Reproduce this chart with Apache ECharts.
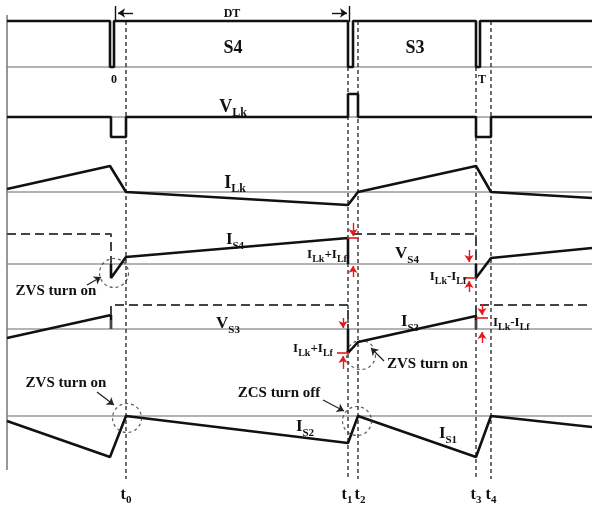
<!DOCTYPE html>
<html><head><meta charset="utf-8">
<script src="https://cdn.jsdelivr.net/npm/echarts@6/dist/echarts.min.js"></script>
<style>html,body{margin:0;padding:0;background:#fff}#c{width:592px;height:507px}</style>
</head><body><div id="c"></div>
<script>
// ---------------- DATA (time in diagram units, levels relative to each trace's zero line) -------------
const s4Time   = [7,110,110,114,114,348,348,353,353,476,476,480,480,592];
const s4Level  = [46,46,0,0,46,46,0,0,46,46,0,0,46,46];
const vlkTime  = [7,111,111,126,126,348,348,358,358,476,476,491,491,592];
const vlkLevel = [0,0,-20,-20,0,0,23,23,0,0,-20,-20,0,0];
const ilkTime  = [7,110,126,348,358,476,491,592];
const ilkLevel = [3,26,0,-13,0,26,0,-6];
const is4TimeA = [111,111,126,348,348];
const is4LevelA= [0,-14,7,26,0];
const is4TimeB = [476,476,491,592];
const is4LevelB= [0,-14,6,16];
const vs4TimeA = [7,111,111];
const vs4LevelA= [30,30,0];
const vs4TimeB = [353,476,476];
const vs4LevelB= [30,30,0];
const is3TimeA = [7,111,111];
const is3LevelA= [-9,14,0];
const is3TimeB = [348,348,358,476,476];
const is3LevelB= [0,-24,-13,13,0];
const vs3TimeA = [111,111,348,348];
const vs3LevelA= [0,24,24,0];
const vs3TimeB = [476,476,592];
const vs3LevelB= [0,24,24];
const isTime   = [7,110,126,348,358,476,491,592];
const isLevel  = [-5,-41,0,-27,0,-41,0,-11];
const tickTimes  = [126,348,358,476,491];
const tickNames  = ['0','1','2','3','4'];
const tickStart  = [21,67,21,67,21];

// ---------------- LAYOUT ----------------
const W = 592, H = 507;
const rowBase = [67,117,192,264,329,416];
const R = 60;
const serif = 'Liberation Serif';
const BLK = '#111';

function pairs(t, v){ return t.map((x,i)=>[x,v[i]]); }

const grids = [], xAxes = [], yAxes = [], series = [];
rowBase.forEach((b,i)=>{
  grids.push({left:7,right:0,top:b-R,height:2*R});
  xAxes.push({type:'value',gridIndex:i,min:7,max:W,show:false});
  yAxes.push({type:'value',gridIndex:i,min:-R,max:R,show:false});
  series.push({type:'line',xAxisIndex:i,yAxisIndex:i,data:[[7,0],[W,0]],symbol:'none',
    lineStyle:{color:'#9a9a9a',width:1.5},z:1,silent:true});
});
// frame grid (index 6)
grids.push({left:0,right:0,top:0,bottom:0});
xAxes.push({type:'value',gridIndex:6,min:0,max:W,show:false});
yAxes.push({type:'value',gridIndex:6,min:0,max:H,inverse:true,show:false});

function trace(row, t, v, dashed){
  series.push({type:'line',xAxisIndex:row,yAxisIndex:row,data:pairs(t,v),symbol:'none',z:5,
    lineStyle: dashed ? {color:'#444',width:2,type:[9,5]} : {color:BLK,width:2.6}});
}
trace(0,s4Time,s4Level);
trace(1,vlkTime,vlkLevel);
trace(2,ilkTime,ilkLevel);
trace(3,is4TimeA,is4LevelA); trace(3,is4TimeB,is4LevelB);
trace(3,vs4TimeA,vs4LevelA,true); trace(3,vs4TimeB,vs4LevelB,true);
trace(4,is3TimeA,is3LevelA); trace(4,is3TimeB,is3LevelB);
trace(4,vs3TimeA,vs3LevelA,true); trace(4,vs3TimeB,vs3LevelB,true);
trace(5,isTime,isLevel);

// frame items
const fr = {xAxisIndex:6,yAxisIndex:6};
series.push(Object.assign({type:'line',data:[[7,15],[7,470]],symbol:'none',lineStyle:{color:'#777',width:1.5},z:2},fr));
tickTimes.forEach((t,i)=>{
  series.push(Object.assign({type:'line',data:[[t,tickStart[i]],[t,479]],symbol:'none',
    lineStyle:{color:'#222',width:1.3,type:[4,3]},z:3},fr));
});
series.push(Object.assign({type:'scatter',data:[[114,273],[127,418],[357,421],[361,355]],symbol:'circle',symbolSize:29,
  itemStyle:{color:'rgba(0,0,0,0)',borderColor:'#333',borderWidth:1.2,borderType:[3,3]},z:6},fr));
function lines(data, color, arrow, w){
  series.push({type:'lines',coordinateSystem:'cartesian2d',xAxisIndex:6,yAxisIndex:6,
    data:data.map(c=>({coords:c})),symbol:arrow?['none','arrow']:['none','none'],symbolSize:arrow?[0,7]:0,
    lineStyle:{color:color,width:w||1.4,opacity:1},z:7});
}
lines([[[133,13],[118,13]],[[332,13],[347,13]]], BLK, true, 1.4);
lines([[[115,6],[115,22]],[[349,6],[349,22]]], BLK, false, 1.4);
lines([[[87,285],[101,277]],[[97,392],[114,405]],[[323,400],[344,411]],[[384,361],[371,348]]], '#222', true, 1.2);
lines([[[353,223],[353,236]],[[353,277],[353,266]],[[343,318],[343,328]],[[343,369],[343,356]],
       [[469,250],[469,262]],[[469,292],[469,281]],[[482,304],[482,315]],[[482,343],[482,332]]], '#e41a1a', true, 1.4);
lines([[[347,238],[359,238]],[[337,353],[349,353]],[[463,278],[476,278]],[[476,318],[488,318]]], '#e41a1a', false, 1.6);

// text labels
function rt(ms, ss){
  return {m:{fontSize:ms,fontFamily:serif,fontWeight:'bold',lineHeight:ms+6,fill:BLK},
          s:{fontSize:ss,fontFamily:serif,fontWeight:'bold',verticalAlign:'bottom',fill:BLK}};
}
const graphic = [];
function txt(x,y,str,size,align){
  graphic.push({type:'text',x:x,y:y,z:20,style:{text:str,font:'bold '+size+'px "'+serif+'"',fill:BLK,
    align:align||'center',verticalAlign:'middle'}});
}
function sub(x,y,parts,ms,ss,align){
  const text = parts.map(p=>'{'+(p[1]?'s':'m')+'|'+p[0]+'}').join('');
  graphic.push({type:'text',x:x,y:y,z:20,style:{text:text,rich:rt(ms,ss),
    align:align||'center',verticalAlign:'middle'}});
}
txt(232,14,'DT',12);
txt(233,48,'S4',18);
txt(415,48,'S3',18);
txt(114,80,'0',12);
txt(482,80,'T',12);
sub(233,107,[['V',0],['Lk',1]],18,12);
sub(235,183,[['I',0],['Lk',1]],18,12);
sub(235,240,[['I',0],['S4',1]],17,11);
sub(407,254,[['V',0],['S4',1]],17,11);
sub(228,324,[['V',0],['S3',1]],17,11);
sub(410,322,[['I',0],['S3',1]],17,11);
sub(305,427,[['I',0],['S2',1]],17,11);
sub(448,434,[['I',0],['S1',1]],17,11);
sub(327,255,[['I',0],['Lk',1],['+',0],['I',0],['Lf',1]],13,10);
sub(313,349,[['I',0],['Lk',1],['+',0],['I',0],['Lf',1]],13,10);
sub(448,277,[['I',0],['Lk',1],['-',0],['I',0],['Lf',1]],13,10);
sub(493,323,[['I',0],['Lk',1],['-',0],['I',0],['Lf',1]],13,10,'left');
txt(56,291,'ZVS turn on',15);
txt(387,364,'ZVS turn on',15,'left');
txt(66,383,'ZVS turn on',15);
txt(279,393,'ZCS turn off',15);
tickTimes.forEach((t,i)=>{
  sub(t+ (i===1?-1:(i===2?2:0)),495,[['t',0],[tickNames[i],1]],16,11);
});

const chart = echarts.init(document.getElementById('c'),null,{renderer:'canvas'});
chart.setOption({animation:false,backgroundColor:'#fff',grid:grids,xAxis:xAxes,yAxis:yAxes,series:series,graphic:graphic});
</script></body></html>
